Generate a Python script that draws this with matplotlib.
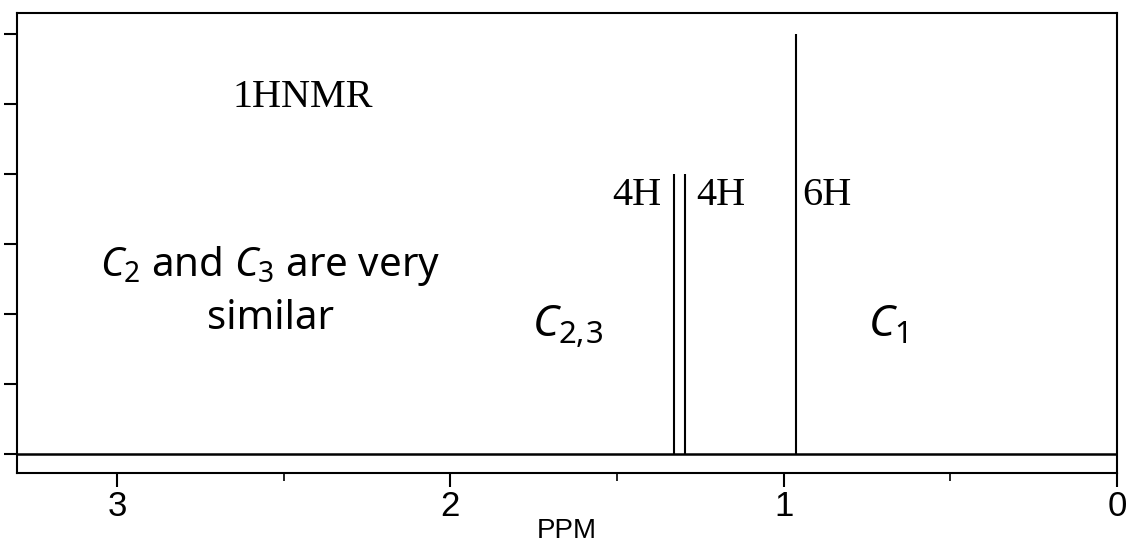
import matplotlib
matplotlib.use("Agg")
import matplotlib.pyplot as plt

# Peak positions (ppm) and integrated heights (number of protons)
peak_ppm = [1.33, 1.295, 0.962]
peak_height = [4, 4, 6]
peak_labels = ["4H", "4H", "6H"]

major_ticks = [3, 2, 1, 0]
minor_ticks = [2.5, 1.5, 0.5]
y_ticks = [0, 1, 2, 3, 4, 5, 6]

plt.rcParams["mathtext.fontset"] = "custom"
plt.rcParams["mathtext.rm"] = "Noto Sans"
plt.rcParams["mathtext.it"] = "Noto Sans:italic"

fig = plt.figure(figsize=(11.31, 5.47), dpi=100)
ax = fig.add_axes([17 / 1131, 1 - 473 / 547, 1100 / 1131, 460 / 547])

ax.set_xlim(3.30, 0)
ax.set_ylim(-0.271, 6.3)

# baseline
ax.axhline(0, color="black", lw=1.8)
# peaks
ax.vlines(peak_ppm, 0, peak_height, color="black", lw=1.5)

for sp in ax.spines.values():
    sp.set_linewidth(1.5)

ax.set_xticks(major_ticks)
ax.set_xticks(minor_ticks, minor=True)
ax.set_xticklabels([str(t) for t in major_ticks], fontfamily="Liberation Sans", fontsize=25)
ax.set_yticks(y_ticks)
ax.set_yticklabels([])
ax.tick_params(axis="x", which="major", direction="out", length=10, width=1.5, pad=2)
ax.tick_params(axis="x", which="minor", direction="out", length=6, width=1.2)
ax.tick_params(axis="y", which="major", direction="out", length=9.5, width=1.5)

ax.set_xlabel("PPM", fontfamily="Liberation Sans", fontsize=20, labelpad=-3)

serif = dict(fontfamily="Liberation Serif", fontsize=29, va="baseline")
ax.text(2.442, 4.96, "1HNMR", ha="center", **serif)
ax.text(1.366, 3.56, peak_labels[0], ha="right", **serif)
ax.text(1.261, 3.56, peak_labels[1], ha="left", **serif)
ax.text(0.943, 3.56, peak_labels[2], ha="left", **serif)

sans = dict(fontfamily="Noto Sans", va="baseline")
ax.text(2.541, 2.55, r"$\mathit{C}_2$ and $\mathit{C}_3$ are very", ha="center", fontsize=29, **sans)
ax.text(2.541, 1.78, "similar", ha="center", fontsize=29, **sans)
ax.text(1.756, 1.67, r"$\mathit{C}_{2,\!3}$", ha="left", fontsize=32, **sans)
ax.text(0.748, 1.67, r"$\mathit{C}_1$", ha="left", fontsize=32, **sans)

fig.savefig("out.png", dpi=100)
